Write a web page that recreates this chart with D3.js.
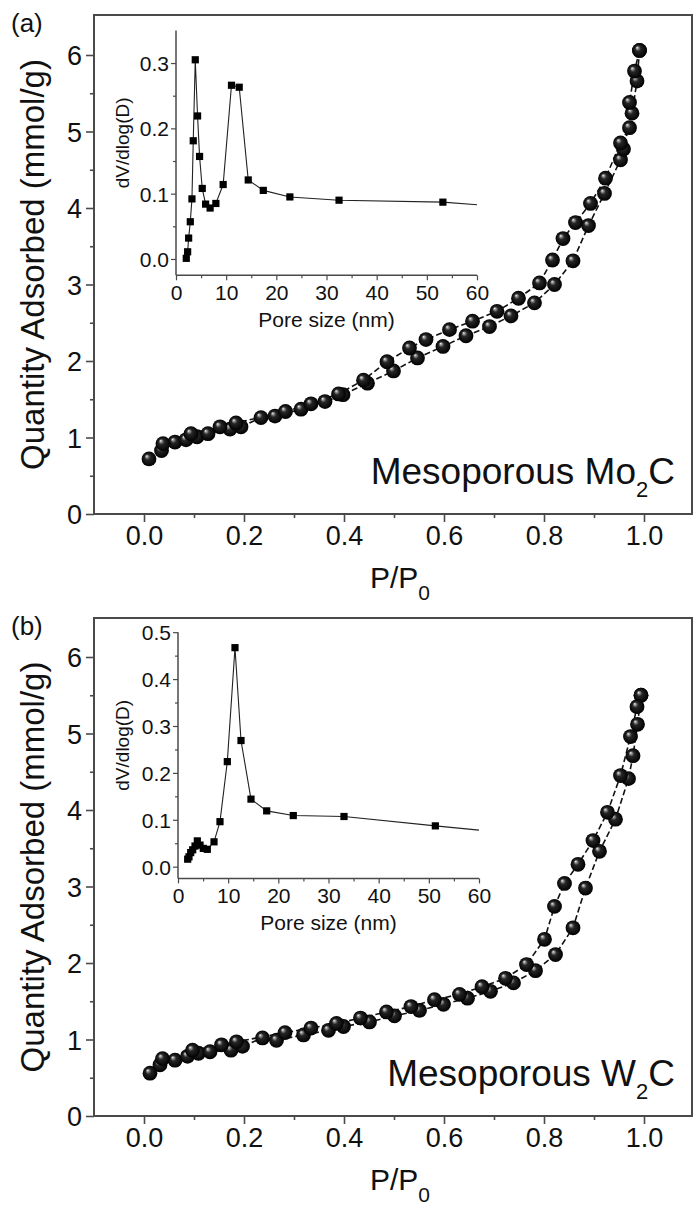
<!DOCTYPE html>
<html><head><meta charset="utf-8">
<script src="https://cdn.jsdelivr.net/npm/d3@7"></script>
<style>
body{margin:0;background:#fff}
svg text{font-family:"Liberation Sans",Arial,Helvetica,sans-serif;fill:#111}
</style>
</head><body>
<svg id="chart" width="694" height="1205"></svg>
<script>
// ---------- data ----------
const xTicks = [0.0, 0.2, 0.4, 0.6, 0.8, 1.0];
const xMinor = [0.1, 0.3, 0.5, 0.7, 0.9];
const yTicks = [0, 1, 2, 3, 4, 5, 6];
const yMinor = [0.5, 1.5, 2.5, 3.5, 4.5, 5.5];
const insetXTicks = [0, 10, 20, 30, 40, 50, 60];
const insetXMinor = [5, 15, 25, 35, 45, 55];
const insetYTicksA = [0.0, 0.1, 0.2, 0.3];
const insetYMinorA = [0.05, 0.15, 0.25];
const insetYTicksB = [0.0, 0.1, 0.2, 0.3, 0.4, 0.5];
const insetYMinorB = [0.05, 0.15, 0.25, 0.35, 0.45];

// Mo2C isotherm
const moAdsP = [0.010,0.035,0.062,0.084,0.106,0.128,0.172,0.194,0.234,0.262,0.314,0.362,0.398,0.447,0.499,0.547,0.598,0.644,0.691,0.734,0.781,0.821,0.858,0.889,0.921,0.953,0.959,0.976,0.986,0.991];
const moAdsQ = [0.72,0.83,0.94,0.97,1.01,1.05,1.11,1.14,1.26,1.28,1.37,1.47,1.56,1.71,1.87,2.04,2.19,2.33,2.45,2.59,2.76,3.00,3.31,3.77,4.19,4.63,4.77,5.24,5.66,6.06];
const moDesP = [0.991,0.981,0.971,0.971,0.953,0.923,0.893,0.863,0.838,0.817,0.791,0.749,0.706,0.657,0.611,0.564,0.531,0.486,0.439,0.389,0.334,0.283,0.184,0.152,0.094,0.038];
const moDesQ = [6.06,5.79,5.38,5.05,4.85,4.39,4.06,3.81,3.60,3.32,3.02,2.82,2.65,2.52,2.41,2.28,2.17,1.99,1.75,1.57,1.44,1.34,1.19,1.14,1.05,0.92];

// W2C isotherm
const wAdsP = [0.012,0.032,0.062,0.087,0.109,0.132,0.174,0.197,0.237,0.265,0.319,0.369,0.399,0.451,0.501,0.551,0.599,0.647,0.693,0.739,0.783,0.823,0.858,0.883,0.911,0.943,0.969,0.978,0.987,0.994];
const wAdsQ = [0.56,0.67,0.73,0.78,0.82,0.84,0.86,0.91,1.02,0.99,1.06,1.12,1.17,1.23,1.31,1.38,1.46,1.54,1.63,1.74,1.90,2.11,2.46,2.98,3.46,3.88,4.41,4.71,5.12,5.50];
const wDesP = [0.994,0.986,0.973,0.953,0.927,0.898,0.868,0.841,0.821,0.801,0.765,0.723,0.676,0.631,0.581,0.534,0.485,0.433,0.385,0.334,0.282,0.185,0.155,0.097,0.037];
const wDesQ = [5.50,5.35,4.96,4.45,3.97,3.60,3.29,3.04,2.74,2.31,1.98,1.80,1.69,1.59,1.52,1.43,1.36,1.28,1.21,1.15,1.09,0.97,0.93,0.86,0.75];

// pore size distributions (insets)
const moPoreD = [2.05,2.32,2.52,2.85,3.18,3.44,3.84,4.3,4.7,5.23,5.9,6.8,7.95,9.4,11.06,12.6,14.4,17.4,22.7,32.5,53.2];
const moPoreV = [0.001,0.011,0.032,0.057,0.092,0.181,0.305,0.219,0.157,0.108,0.084,0.078,0.085,0.114,0.266,0.263,0.121,0.105,0.095,0.090,0.087];
const moPoreTail = [60, 0.083];
const wPoreD = [1.93,2.19,2.53,2.93,3.39,3.85,4.39,5.04,5.84,7.18,8.37,9.83,11.36,12.56,14.55,17.68,22.98,33.09,51.3];
const wPoreV = [0.016,0.021,0.030,0.036,0.044,0.055,0.046,0.039,0.037,0.053,0.096,0.224,0.467,0.269,0.144,0.119,0.109,0.107,0.087];
const wPoreTail = [60, 0.078];

// ---------- drawing ----------
const svg = d3.select('#chart');
svg.append('rect').attr('width',694).attr('height',1205).attr('fill','#fff');

const defs = svg.append('defs');
const grad = defs.append('radialGradient').attr('id','ball')
  .attr('cx','50%').attr('cy','50%').attr('r','50%').attr('fx','33%').attr('fy','30%');
grad.append('stop').attr('offset','0%').attr('stop-color','#f4f4f4');
grad.append('stop').attr('offset','14%').attr('stop-color','#9a9a9a');
grad.append('stop').attr('offset','38%').attr('stop-color','#262626');
grad.append('stop').attr('offset','100%').attr('stop-color','#000');

const AX = '#4a4a4a';

function styleAxis(sel){
  sel.select('.domain').remove();
  sel.selectAll('.tick line').attr('stroke',AX).attr('stroke-width',1.6);
}

function panel(cfg){
  const g = svg.append('g');
  const x = d3.scaleLinear().domain([-0.1,1.1]).range([94,694]);
  const y = d3.scaleLinear().domain([0,6.5]).range([cfg.bottom, cfg.bottom-6.5*76.5]);

  // minor ticks
  g.append('g').attr('transform',`translate(0,${cfg.bottom})`)
    .call(d3.axisBottom(x).tickValues(xMinor).tickSize(4).tickFormat('').tickSizeOuter(0)).call(styleAxis);
  g.append('g').attr('transform','translate(94,0)')
    .call(d3.axisLeft(y).tickValues(yMinor).tickSize(4).tickFormat('').tickSizeOuter(0)).call(styleAxis);
  // major ticks
  const xa = g.append('g').attr('transform',`translate(0,${cfg.bottom})`)
    .call(d3.axisBottom(x).tickValues(xTicks).tickSize(8).tickFormat(d3.format('.1f')).tickSizeOuter(0)).call(styleAxis);
  xa.selectAll('text').attr('y',31).attr('dy',0).style('font-size','27px').attr('fill','#111');
  const ya = g.append('g').attr('transform','translate(94,0)')
    .call(d3.axisLeft(y).tickValues(yTicks).tickSize(8).tickFormat(d3.format('d')).tickSizeOuter(0)).call(styleAxis);
  ya.selectAll('text').attr('x',-12).attr('dy','0.36em').style('font-size','27px').attr('fill','#111');

  // frame
  g.append('rect').attr('x',94).attr('y',cfg.top).attr('width',598).attr('height',cfg.bottom-cfg.top)
    .attr('fill','none').attr('stroke',AX).attr('stroke-width',2);

  // inset
  const ix = d3.scaleLinear().domain([0,60]).range([cfg.inX0, cfg.inX1]);
  const iy = d3.scaleLinear().domain(cfg.inDomain).range([cfg.inBottom, cfg.inTop]);
  const ig = g.append('g');
  ig.append('g').attr('transform',`translate(0,${cfg.inBottom})`)
    .call(d3.axisBottom(ix).tickValues(insetXMinor).tickSize(3).tickFormat('').tickSizeOuter(0)).call(styleAxis);
  const ixa = ig.append('g').attr('transform',`translate(0,${cfg.inBottom})`)
    .call(d3.axisBottom(ix).tickValues(insetXTicks).tickSize(5).tickFormat(d3.format('d')).tickSizeOuter(0)).call(styleAxis);
  ixa.selectAll('text').attr('y',25).attr('dy',0).style('font-size','21px').attr('fill','#111');
  ig.append('g').attr('transform',`translate(${cfg.inX0},0)`)
    .call(d3.axisLeft(iy).tickValues(cfg.inYMinor).tickSize(3).tickFormat('').tickSizeOuter(0)).call(styleAxis);
  const iya = ig.append('g').attr('transform',`translate(${cfg.inX0},0)`)
    .call(d3.axisLeft(iy).tickValues(cfg.inYTicks).tickSize(5).tickFormat(d3.format('.1f')).tickSizeOuter(0)).call(styleAxis);
  iya.selectAll('text').attr('x',-7).attr('dy','0.36em').style('font-size','21px').attr('fill','#111');
  ig.selectAll('.tick line').attr('stroke-width',1.2);
  ig.append('line').attr('x1',cfg.inX0).attr('x2',cfg.inX1).attr('y1',cfg.inBottom).attr('y2',cfg.inBottom)
    .attr('stroke',AX).attr('stroke-width',1.5);
  ig.append('line').attr('x1',cfg.inX0).attr('x2',cfg.inX0).attr('y1',cfg.inBottom).attr('y2',cfg.inTop)
    .attr('stroke',AX).attr('stroke-width',1.5);

  const pts = cfg.poreD.map((d,i)=>[d,cfg.poreV[i]]);
  const linePts = pts.concat([cfg.poreTail]);
  ig.append('path').datum(linePts)
    .attr('d', d3.line().x(d=>ix(d[0])).y(d=>iy(d[1])))
    .attr('fill','none').attr('stroke','#222').attr('stroke-width',1.1);
  ig.selectAll('rect.sq').data(pts).join('rect').attr('class','sq')
    .attr('x',d=>ix(d[0])-3.6).attr('y',d=>iy(d[1])-3.6).attr('width',7.2).attr('height',7.2).attr('fill','#000');

  ig.append('text').attr('x',(cfg.inX0+cfg.inX1)/2).attr('y',cfg.inBottom+52)
    .attr('text-anchor','middle').style('font-size','21px').text('Pore size (nm)');
  ig.append('text').attr('transform',`translate(129,${(cfg.inTop+cfg.inBottom)/2-10}) rotate(-90)`)
    .attr('text-anchor','middle').style('font-size','19px').text('dV/dlog(D)');

  // isotherm
  const ads = cfg.adsP.map((p,i)=>[p,cfg.adsQ[i]]);
  const des = cfg.desP.map((p,i)=>[p,cfg.desQ[i]]);
  const line = d3.line().x(d=>x(d[0])).y(d=>y(d[1]));
  [ads,des].forEach(s=>{
    g.append('path').datum(s).attr('d',line).attr('fill','none')
      .attr('stroke','#111').attr('stroke-width',1.6).attr('stroke-dasharray','6,3');
  });
  g.selectAll('circle.ball').data(ads.concat(des)).join('circle').attr('class','ball')
    .attr('cx',d=>x(d[0])).attr('cy',d=>y(d[1])).attr('r',7.4).attr('fill','url(#ball)');

  // labels
  g.append('text').attr('x',11).attr('y',cfg.top+17).style('font-size','26px').text(cfg.tag);
  g.append('text').attr('transform',`translate(44,${(cfg.top+cfg.bottom)/2}) rotate(-90)`)
    .attr('text-anchor','middle').style('font-size','33px').text('Quantity Adsorbed (mmol/g)');
  const xt = g.append('text').attr('x',400).attr('y',cfg.bottom+74).attr('text-anchor','middle').style('font-size','30px');
  xt.append('tspan').text('P/P');
  xt.append('tspan').attr('dy',12).style('font-size','21px').text('0');
  const nm = g.append('text').attr('x',675).attr('y',cfg.bottom-30).attr('text-anchor','end').style('font-size','37px');
  nm.append('tspan').text(cfg.name);
  nm.append('tspan').attr('dy',13).style('font-size','22px').text('2');
  nm.append('tspan').attr('dy',-13).text('C');
}

panel({tag:'(a)', top:15, bottom:514, name:'Mesoporous Mo',
  adsP:moAdsP, adsQ:moAdsQ, desP:moDesP, desQ:moDesQ,
  inX0:176, inX1:477, inTop:30.4, inBottom:275.3, inDomain:[-0.025,0.35],
  inYTicks:insetYTicksA, inYMinor:insetYMinorA,
  poreD:moPoreD, poreV:moPoreV, poreTail:moPoreTail});
panel({tag:'(b)', top:618, bottom:1116, name:'Mesoporous W',
  adsP:wAdsP, adsQ:wAdsQ, desP:wDesP, desQ:wDesQ,
  inX0:178, inX1:479, inTop:632.2, inBottom:878.4, inDomain:[-0.025,0.5],
  inYTicks:insetYTicksB, inYMinor:insetYMinorB,
  poreD:wPoreD, poreV:wPoreV, poreTail:wPoreTail});
</script>
</body></html>
